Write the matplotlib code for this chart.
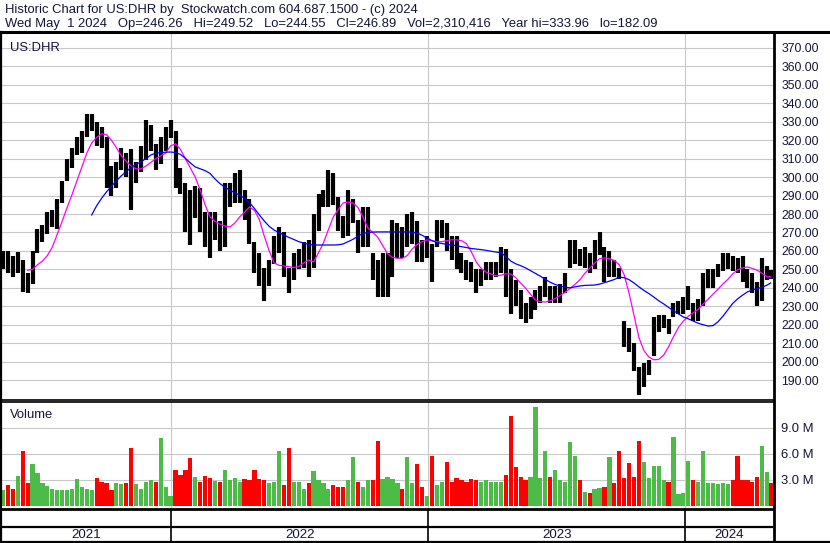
import matplotlib as mpl
mpl.use('Agg')
import matplotlib.pyplot as plt
import matplotlib.dates as mdates
from matplotlib.lines import Line2D
import numpy as np
import pandas as pd

plt.rcParams['font.family'] = ['Liberation Sans', 'DejaVu Sans']

# weekly bars (Fridays, last one is Wed May 1 2024)
weeks = list(pd.date_range('2021-05-07', periods=156, freq='7D')) + [pd.Timestamp('2024-05-01')]

high = [260, 260, 257, 259.5, 255, 248, 260, 272, 274, 281,
        282, 288, 298, 310, 316, 322, 325, 334, 334, 330,
        327, 322, 306, 308, 316, 313, 315, 308, 317, 331,
        328, 318, 322, 327, 331, 325, 305, 297, 293, 295,
        294, 281, 281, 281, 276, 297, 297, 302, 304, 293,
        288, 265, 259, 251, 255, 268, 273, 270, 251, 259,
        261, 265, 266, 280, 291, 293, 304, 302, 289, 279,
        293, 288, 277, 284, 284, 259, 255, 259, 259, 277,
        275, 273, 280, 281, 276, 266, 268, 264, 277, 277,
        275, 268, 268, 259, 255, 254, 250, 250, 254, 254,
        254, 262, 261, 250, 244, 239, 232, 235, 239, 241,
        246, 241, 241, 242, 248, 266, 266, 261, 262, 259,
        266, 270, 262, 260, 255, 251, 222, 218, 210, 197,
        199, 201, 224, 225, 225, 223, 232, 233, 235, 241,
        232, 234, 248, 250, 250, 253, 259, 259, 257, 256,
        257, 250, 248, 243, 256, 252, 249.52]

low = [250, 248, 246, 248, 238, 237, 242, 259, 265, 269,
       273, 272, 286, 298, 305, 312, 313, 322, 325, 317,
       316, 294, 290, 294, 304, 300, 282, 297, 303, 309,
       314, 304, 307, 314, 321, 294, 291, 270, 263, 278,
       270, 262, 256, 266, 260, 262, 284, 286, 286, 277,
       264, 248, 241, 233, 241, 253, 259, 246, 237, 244,
       250, 251, 246, 251, 271, 284, 284, 285, 271, 267,
       268, 275, 259, 262, 262, 244, 235, 235, 235, 246,
       256, 256, 262, 264, 254, 254, 256, 243, 262, 267,
       260, 255, 250, 248, 244, 243, 237, 241, 244, 244,
       246, 248, 235, 226, 230, 223, 221, 223, 228, 232,
       235, 232, 232, 232, 237, 251, 253, 252, 251, 248,
       250, 258, 243, 246, 246, 245, 208, 205, 195, 182.09,
       186, 193, 203, 216, 218, 215, 224, 226, 226, 228,
       222, 222, 230, 240, 240, 246, 249, 250, 249, 248,
       243, 240, 237, 230, 233, 244, 244.55]

# short (magenta) and long (blue) moving averages as drawn
ma_short = [np.nan] * 5 + [
    249.5, 250, 252.5, 254.5, 257.5,
    262, 269, 276, 283.5, 290.5, 298, 305.5, 313, 318.5, 321.5,
    323.5, 323, 320, 316, 311.5, 308.5, 306, 304.5, 304.5, 306,
    308, 310, 311.5, 313, 317, 318, 315, 310, 305, 300,
    293, 285, 278.4, 276, 274.5, 273.5, 273, 275, 278.4, 281,
    283.8, 282, 277, 268, 260, 253.5, 252.2, 251.8, 251.5, 251,
    251.5, 253.5, 255, 254, 259, 264.3, 271.5, 278.4, 282.5, 286,
    286.5, 286, 283.5, 278.5, 272.5, 270, 267.5, 263, 258.5, 256.5,
    256, 256, 257.5, 261, 263.5, 265, 266, 265.5, 265, 265,
    265.5, 266, 266, 265.5, 264, 259.5, 254, 250.5, 248.5, 247.5,
    246.5, 246.8, 247.6, 247.5, 245.5, 242.5, 239.8, 236.5, 233.4, 232.5,
    232.3, 233, 234.2, 235.8, 237.5, 239.6, 241.8, 244.3, 247.8, 250.6,
    253.3, 255.8, 256.2, 255.8, 254.8, 252.5, 247, 237, 225, 213,
    206, 202.5, 201, 201.2, 203.5, 208, 213.5, 218.5, 222, 224.6,
    226.5, 228.3, 231.2, 233.8, 236.5, 239.2, 242, 244.5, 247.5, 249.8,
    250.8, 251.3, 250.5, 249.5, 247.8, 246, 246]

ma_long = [np.nan] * 18 + [
    279.5, 284.5,
    288.5, 292, 295, 298, 300.7, 303, 305.3, 307, 308.3, 310,
    312, 313, 313.3, 313.5, 313.6, 313.3, 312.3, 310.2, 307.7, 305.5,
    304.5, 303.5, 302, 299, 296.5, 294.5, 293, 291.5, 290.3, 288.5,
    286.2, 283, 279.5, 276.2, 273.3, 271.3, 269.9, 268.6, 267.3, 266.2,
    265, 264.3, 263.5, 263.2, 263.2, 263.2, 263.2, 263.2, 263.3, 263.8,
    265, 266.3, 268, 269.5, 270, 270.2, 270.3, 270.3, 270.3, 270.3,
    270.3, 270.3, 270.3, 270.1, 269.7, 268.5, 267, 265.6, 264.6, 264,
    263.6, 263.2, 262.8, 262.3, 261.8, 261.3, 261, 260.7, 260.3, 259.8,
    259.4, 259, 257, 254.5, 253, 252, 250.8, 249.3, 247.8, 246.3,
    244.6, 243, 241.8, 241, 240.3, 240, 240.5, 241, 241.3, 241.4,
    241.5, 242, 242.8, 243.6, 244.5, 245.8, 245.5, 244.4, 242.6, 240.5,
    238.6, 236.9, 235, 233, 231.3, 229.4, 227.6, 225.9, 224.2, 223.2,
    222, 220.8, 220, 219.3, 219.5, 221.5, 224.5, 228, 231.5, 234,
    236, 237.8, 238.8, 239.6, 240.3, 241.5, 242.6]

# volume, millions of shares
volume = [1.9, 2.4, 2.0, 3.5, 6.3, 2.6, 4.8, 3.8, 2.6, 2.3,
          2.0, 1.9, 1.8, 1.8, 2.0, 3.1, 2.2, 2.0, 1.9, 3.2,
          2.8, 2.7, 1.8, 2.7, 2.5, 2.7, 6.7, 2.5, 2.0, 2.8,
          3.0, 2.8, 7.8, 2.2, 1.2, 4.2, 3.6, 4.2, 5.5, 3.4,
          2.8, 3.5, 3.2, 2.9, 2.8, 4.2, 3.0, 3.2, 2.8, 3.1,
          3.0, 4.2, 3.1, 3.0, 2.6, 2.8, 6.3, 2.4, 6.7, 2.8,
          2.8, 2.0, 2.6, 4.0, 3.0, 2.6, 2.0, 2.4, 2.2, 2.2,
          3.0, 5.6, 2.8, 2.2, 3.0, 3.0, 7.5, 3.1, 3.4, 3.1,
          2.6, 2.0, 5.6, 2.6, 4.9, 2.2, 1.2, 5.8, 2.4, 2.8,
          5.1, 2.8, 3.2, 3.0, 2.8, 3.1, 3.0, 2.8, 3.0, 2.8,
          2.8, 2.8, 3.6, 10.4, 4.5, 3.4, 3.0, 3.4, 11.4, 3.2,
          6.3, 3.4, 4.2, 3.0, 2.8, 7.4, 5.8, 3.0, 1.6, 1.5,
          2.0, 2.1, 2.2, 5.6, 2.6, 6.3, 3.2, 5.0, 3.4, 7.5,
          5.1, 3.2, 4.6, 4.6, 3.0, 2.8, 8.0, 1.4, 1.5, 5.2,
          3.0, 2.8, 6.3, 2.6, 2.6, 2.5, 2.6, 2.5, 3.0, 5.8,
          3.0, 3.0, 2.8, 3.4, 6.9, 3.9, 2.6]

years = ['2021', '2022', '2023', '2024']
price_ticks = list(range(190, 371, 10))
vol_ticks = [3, 6, 9]
vol_labels = ['3.0 M', '6.0 M', '9.0 M']

header1 = 'Historic Chart for US:DHR by  Stockwatch.com 604.687.1500 - (c) 2024'
header2 = ('Wed May  1 2024   Op=246.26   Hi=249.52   Lo=244.55   Cl=246.89   '
           'Vol=2,310,416   Year hi=333.96   lo=182.09')

W, H = 830, 543
txt = '#14143a'
grid = '#c8c8c8'

x = mdates.date2num(weeks)
t0 = mdates.date2num(pd.Timestamp('2021-05-07'))
xmin, xmax = t0 - 1.4, t0 + 1093.3
mid = (np.array(high) + np.array(low)) / 2
up = np.r_[True, mid[1:] >= mid[:-1]]
vcol = np.where(up, '#4cbb47', '#ff0000')
year_starts = [mdates.date2num(pd.Timestamp(f'{y}-01-01')) for y in years[1:]]

fig = plt.figure(figsize=(W / 100, H / 100), dpi=100)


def box(l, t, r, b):
    return [l / W, 1 - b / H, (r - l) / W, (b - t) / H]


# price panel
ax = fig.add_axes(box(2, 33, 773, 400))
ax.vlines(x, low, high, color='black', lw=3.0)
ax.plot(x, ma_short, color='#ff00ff', lw=0.9)
ax.plot(x, ma_long, color='#0000ff', lw=0.9)
ax.set_xlim(xmin, xmax)
ax.set_ylim(179.2, 378.1)
ax.set_yticks(price_ticks)
ax.set_yticklabels([f'{v:.2f}' for v in price_ticks])
ax.yaxis.tick_right()
ax.tick_params(axis='y', length=0, pad=6, labelsize=8.8, labelcolor=txt)
ax.set_xticks([])
for v in price_ticks:
    ax.axhline(v, color=grid, lw=0.8, zorder=0)
for xs in year_starts:
    ax.axvline(xs, color=grid, lw=0.8, zorder=0)
for s in ['top', 'left', 'right']:
    ax.spines[s].set_visible(False)
ax.spines['bottom'].set_linewidth(1.2)
ax.text(8 / 771, 0.975, 'US:DHR', transform=ax.transAxes, fontsize=9.4,
        color=txt, va='top', ha='left')

# volume panel
av = fig.add_axes(box(2, 402, 773, 509))
av.bar(x, volume, width=6.0, color=vcol, linewidth=0)
av.set_xlim(xmin, xmax)
av.set_ylim(-0.35, 12)
av.set_yticks(vol_ticks)
av.set_yticklabels(vol_labels)
av.yaxis.tick_right()
av.tick_params(axis='y', length=0, pad=6, labelsize=9.4, labelcolor=txt)
av.set_xticks([])
for v in vol_ticks:
    av.axhline(v, color=grid, lw=0.8, zorder=0)
for xs in year_starts:
    av.axvline(xs, color=grid, lw=0.8, zorder=0)
for s in ['left', 'right']:
    av.spines[s].set_visible(False)
av.spines['top'].set_linewidth(1.2)
av.spines['bottom'].set_linewidth(2)
av.text(8 / 771, 0.93, 'Volume', transform=av.transAxes, fontsize=9.4,
        color=txt, va='top', ha='left')

# date strip
ad = fig.add_axes(box(2, 509, 773, 542))
ad.set_xlim(xmin, xmax)
ad.set_ylim(0, 1)
ad.axis('off')
ad.axhline((542 - 527) / 33, color='black', lw=1.6)
for xs in year_starts:
    ad.axvline(xs, color='black', lw=1.2)
edges = [xmin] + year_starts + [xmax]
for i, y in enumerate(years):
    ad.text((edges[i] + edges[i + 1]) / 2, 0.22, y, ha='center', va='center',
            fontsize=9.6, color=txt)

# frame lines
fig.add_artist(Line2D([0, 1], [1 - 32 / H, 1 - 32 / H], color='black', lw=2.2))
fig.add_artist(Line2D([0, 1], [1 - 542 / H, 1 - 542 / H], color='black', lw=1.6))
fig.add_artist(Line2D([1 / W, 1 / W], [1 - 32 / H, 1 - 542 / H], color='black', lw=1.6))
fig.add_artist(Line2D([774 / W, 774 / W], [1 - 32 / H, 1 - 542 / H], color='black', lw=2))

fig.text(5 / W, 1 - 10 / H, header1, fontsize=9.4, color=txt, va='center', ha='left')
fig.text(5 / W, 1 - 24 / H, header2, fontsize=9.4, color=txt, va='center', ha='left')

fig.savefig('out.png', dpi=100)
